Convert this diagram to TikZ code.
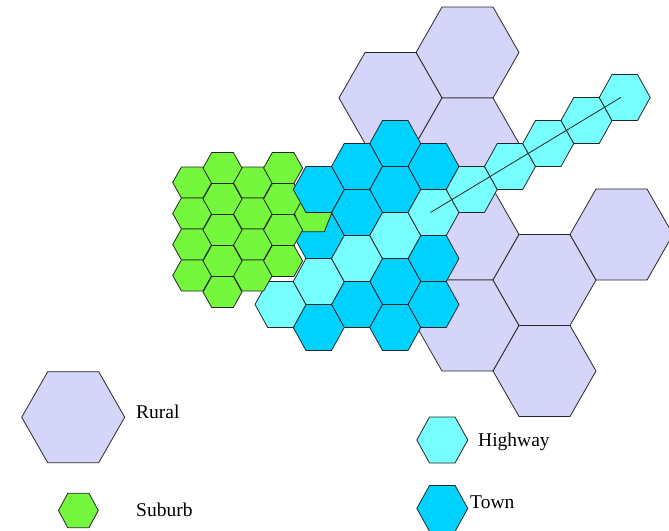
\documentclass[tikz,border=0pt]{standalone}
\usepackage{fontspec}
\setmainfont{Liberation Serif}
\usetikzlibrary{positioning}

\definecolor{ruralfill}{RGB}{213,213,250}
\definecolor{townfill}{RGB}{0,210,255}
\definecolor{hwyfill}{RGB}{119,255,255}
\definecolor{suburbfill}{RGB}{117,247,62}

% 六角形（スタイル, 中心x, 中心y, 半幅, 上辺の半分, 半高さ）
\newcommand{\hexcell}[6]{%
  \draw[#1] ({(#2)-(#4)},{(#3)}) -- ({(#2)-(#5)},{(#3)-(#6)})
    -- ({(#2)+(#5)},{(#3)-(#6)}) -- ({(#2)+(#4)},{(#3)})
    -- ({(#2)+(#5)},{(#3)+(#6)}) -- ({(#2)-(#5)},{(#3)+(#6)}) -- cycle;}

\begin{document}
\begin{tikzpicture}[
  x=1pt, y=-1pt,
  cell/.style={draw=black!85, line width=0.8pt},
  rural/.style={cell, fill=ruralfill},
  town/.style={cell, fill=townfill},
  hwy/.style={cell, fill=hwyfill},
  suburb/.style={cell, fill=suburbfill},
  legtext/.style={inner sep=0pt, font=\fontsize{19.5}{23}\selectfont}
]
\useasboundingbox (0,0) rectangle (669,530);

% 農村
\foreach \i/\j in {0/0,-1/1,0/2,0/4,0/6,1/5,1/7,2/4} {
  \hexcell{rural}{467.5+77*(\i)}{52.5+45.5*(\j)}{51.5}{25.5}{45.5}
}

% 町
\foreach \i/\j in {-1/-3,-2/-2,0/-2,-1/-1,-2/0,-3/1,0/2,-1/3,-2/4,0/4,-3/5,-1/5} {
  \hexcell{town}{433.5+38.25*(\i)}{212.5+23*(\j)}{25.5}{12.75}{23}
}

% 高速道路
\foreach \k in {-4,...,5} {
  \hexcell{hwy}{433.5+38.25*(\k)}{212.5-23*(\k)}{25.5}{12.75}{23}
  \coordinate (hwy\k) at ({433.5+38.25*(\k)},{212.5-23*(\k)});
}

% 郊外
\hexcell{suburb}{313}{213}{18.7}{11.3}{18.7}
\foreach \x in {192.2,252.8} {
  \foreach \r in {0,...,3} {
    \hexcell{suburb}{\x}{182.5+31*\r}{19.5}{10.8}{15.5}
  }
}
\foreach \x/\n in {222.5/4,283.1/3} {
  \foreach \r in {0,...,\n} {
    \hexcell{suburb}{\x}{168+31*\r}{19.5}{10.8}{15.5}
  }
}
\hexcell{town}{318.75}{189.5}{25.5}{12.75}{23}

\draw[black!85, line width=0.8pt] ([xshift=-3pt]hwy0) -- ([xshift=-4pt]hwy5);

% 凡例
\hexcell{rural}{73.2}{417.2}{51.5}{25.5}{45.5}
\hexcell{suburb}{78.4}{510.5}{19.9}{10.6}{17.2}
\hexcell{hwy}{442.3}{440}{25.5}{12.75}{23}
\hexcell{town}{442.3}{508.4}{25.5}{12.75}{23}
\node[legtext, anchor=base west] (lbRural) at (136,418) {Rural};
\node[legtext, anchor=base west] (lbSuburb) at (136,516.5) {Suburb};
\node[legtext, anchor=base west] (lbHwy) at (478,446.5) {Highway};
\node[legtext, anchor=base west] (lbTown) at (470,508.5) {Town};

\end{tikzpicture}
\end{document}
